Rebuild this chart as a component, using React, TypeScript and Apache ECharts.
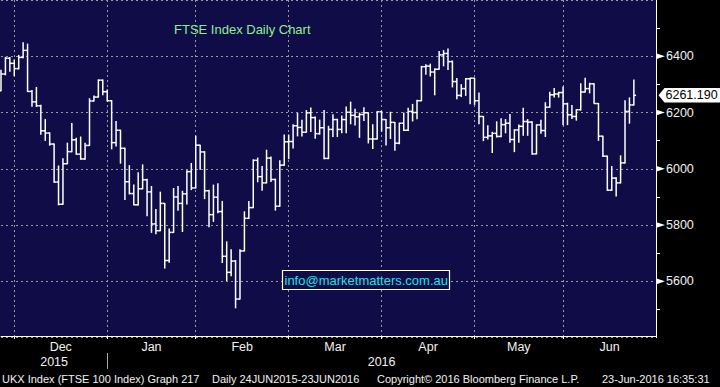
import React, { useEffect, useRef } from "react";
import * as echarts from "echarts";

// Trading days shown on the axis (last five June days are empty slots)
const tradingDays: [string, number[]][] = [
  ["2015-11", [25, 26, 27, 30]],
  ["2015-12", [1, 2, 3, 4, 7, 8, 9, 10, 11, 14, 15, 16, 17, 18, 21, 22, 23, 24, 29, 30, 31]],
  ["2016-01", [4, 5, 6, 7, 8, 11, 12, 13, 14, 15, 18, 19, 20, 21, 22, 25, 26, 27, 28, 29]],
  ["2016-02", [1, 2, 3, 4, 5, 8, 9, 10, 11, 12, 15, 16, 17, 18, 19, 22, 23, 24, 25, 26, 29]],
  ["2016-03", [1, 2, 3, 4, 7, 8, 9, 10, 11, 14, 15, 16, 17, 18, 21, 22, 23, 24, 29, 30, 31]],
  ["2016-04", [1, 4, 5, 6, 7, 8, 11, 12, 13, 14, 15, 18, 19, 20, 21, 22, 25, 26, 27, 28, 29]],
  ["2016-05", [3, 4, 5, 6, 9, 10, 11, 12, 13, 16, 17, 18, 19, 20, 23, 24, 25, 26, 27, 31]],
  ["2016-06", [1, 2, 3, 6, 7, 8, 9, 10, 13, 14, 15, 16, 17, 20, 21, 22, 23, 24, 27, 28, 29]],
];

const openP = [
  6277, 6337, 6393, 6375, 6356, 6396, 6421, 6275, 6238, 6224, 6135, 6127, 6088, 5953, 5874, 6018, 6061, 6103, 6052, 6035, 6083, 6241, 6255, 6315, 6274,
  6242, 6093, 6137, 6073, 5954, 5912, 5872, 5929, 5961, 5918, 5804, 5780, 5877, 5674, 5774, 5900, 5877, 5911, 5990, 5932,
  6084, 6060, 5922, 5837, 5899, 5848, 5689, 5632, 5672, 5537, 5708, 5824, 5862, 6030, 5972, 5950, 6038, 5962, 5867, 6013, 6096,
  6097, 6153, 6147, 6130, 6199, 6182, 6125, 6146, 6037, 6140, 6175, 6140, 6175, 6201, 6190, 6185, 6193, 6199, 6106, 6106, 6203,
  6175, 6146, 6165, 6091, 6162, 6137, 6204, 6200, 6242, 6363, 6365, 6344, 6354, 6405, 6410, 6381, 6310, 6261, 6285, 6320, 6322,
  6242, 6186, 6112, 6117, 6126, 6115, 6157, 6162, 6104, 6138, 6151, 6168, 6166, 6053, 6156, 6136, 6219, 6263, 6266, 6271,
  6231, 6192, 6186, 6210, 6273, 6285, 6302, 6232, 6116, 6045, 5924, 5967, 5950, 6021, 6204, 6227,
];
const highP = [
  6350, 6396, 6396, 6387, 6403, 6448, 6443, 6278, 6289, 6226, 6175, 6128, 6088, 6010, 6036, 6091, 6161, 6109, 6113, 6091, 6249, 6259, 6316, 6316, 6280,
  6242, 6168, 6137, 6073, 6011, 5942, 5986, 6014, 5963, 5937, 5855, 5917, 5877, 5786, 5930, 5937, 5920, 5993, 6019, 6116,
  6084, 6061, 5924, 5942, 5947, 5884, 5740, 5712, 5674, 5712, 5847, 5884, 6032, 6038, 6008, 6066, 6042, 5963, 6029, 6120, 6120,
  6157, 6197, 6173, 6207, 6216, 6184, 6173, 6207, 6151, 6192, 6176, 6188, 6220, 6237, 6212, 6198, 6217, 6199, 6157, 6204, 6204,
  6175, 6201, 6165, 6162, 6198, 6215, 6229, 6244, 6364, 6370, 6372, 6355, 6417, 6420, 6426, 6383, 6321, 6299, 6321, 6322, 6322,
  6269, 6186, 6153, 6130, 6167, 6178, 6175, 6193, 6139, 6156, 6215, 6175, 6167, 6156, 6173, 6235, 6272, 6285, 6272, 6291,
  6233, 6225, 6210, 6302, 6322, 6304, 6302, 6232, 6116, 6045, 6008, 5968, 6046, 6242, 6252, 6316,
];
const lowP = [
  6277, 6334, 6347, 6331, 6355, 6395, 6275, 6222, 6222, 6123, 6101, 6084, 5952, 5872, 5874, 6018, 6061, 6052, 6034, 6034, 6083, 6241, 6255, 6263, 6241,
  6071, 6081, 6020, 5891, 5911, 5872, 5871, 5929, 5833, 5774, 5769, 5780, 5647, 5668, 5774, 5853, 5777, 5875, 5926, 5932,
  5998, 5894, 5794, 5813, 5844, 5667, 5603, 5620, 5506, 5537, 5708, 5823, 5862, 5954, 5924, 5950, 5955, 5853, 5867, 6013, 6036,
  6074, 6117, 6117, 6130, 6133, 6109, 6123, 6036, 6036, 6115, 6115, 6128, 6128, 6160, 6156, 6112, 6172, 6092, 6072, 6106, 6134,
  6085, 6108, 6066, 6089, 6136, 6136, 6170, 6178, 6242, 6336, 6330, 6263, 6354, 6366, 6353, 6291, 6249, 6257, 6261, 6231, 6229,
  6160, 6100, 6106, 6058, 6113, 6114, 6128, 6094, 6061, 6094, 6119, 6119, 6052, 6053, 6126, 6115, 6219, 6255, 6255, 6157,
  6157, 6179, 6173, 6209, 6273, 6270, 6233, 6101, 6044, 5923, 5923, 5903, 5950, 6021, 6162, 6227,
];
const closeP = [
  6337, 6393, 6375, 6356, 6396, 6421, 6275, 6238, 6224, 6135, 6127, 6088, 5953, 5874, 6018, 6061, 6103, 6052, 6035, 6083, 6241, 6255, 6315, 6274, 6242,
  6093, 6137, 6073, 5954, 5912, 5872, 5929, 5961, 5918, 5804, 5780, 5877, 5674, 5774, 5900, 5877, 5911, 5990, 5932, 6084,
  6060, 5922, 5837, 5899, 5848, 5689, 5632, 5672, 5537, 5708, 5824, 5862, 6030, 5972, 5950, 6038, 5962, 5867, 6013, 6096, 6097,
  6153, 6147, 6130, 6199, 6182, 6125, 6146, 6037, 6140, 6175, 6140, 6175, 6201, 6190, 6185, 6193, 6199, 6106, 6106, 6203, 6175,
  6146, 6165, 6091, 6162, 6137, 6204, 6200, 6242, 6363, 6365, 6344, 6354, 6405, 6410, 6381, 6310, 6261, 6285, 6320, 6322, 6242,
  6186, 6112, 6117, 6126, 6115, 6157, 6162, 6104, 6138, 6151, 6168, 6166, 6053, 6156, 6136, 6219, 6263, 6266, 6271, 6231,
  6192, 6186, 6210, 6273, 6285, 6302, 6232, 6116, 6045, 5924, 5967, 5950, 6021, 6204, 6227, 6261.19,
];

const lastPrice = 6261.19;
const yTicks = [5600, 5800, 6000, 6200, 6400];
const monthNames = ["Jan", "Feb", "Mar", "Apr", "May", "Jun", "Jul", "Aug", "Sep", "Oct", "Nov", "Dec"];
const titleText = "FTSE Index Daily Chart";
const emailText = "info@marketmatters.com.au";
const footerTexts: [string, number][] = [
  ["UKX Index (FTSE 100 Index) Graph 217", 2],
  ["Daily 24JUN2015-23JUN2016", 212],
  ["Copyright\u00A9 2016 Bloomberg Finance L.P.", 377],
  ["23-Jun-2016 16:35:31", 602],
];

const NAVY = "#100c48";
const FONT = "'Liberation Sans', Arial, sans-serif";
const LABEL_COLOR = "#f2f2f2";
const GRID_COLOR = "#9a9a9a";

export default function App() {
  const ref = useRef<HTMLDivElement>(null);

  useEffect(() => {
    if (!ref.current) return;
    const chart = echarts.init(ref.current, null, { renderer: "svg" });

    const categories: string[] = [];
    tradingDays.forEach(([ym, days]) =>
      days.forEach((d) => categories.push(`${ym}-${String(d).padStart(2, "0")}`))
    );
    const n = categories.length;

    // month boundaries: last trading day of each month
    const gridIdx: number[] = [];
    const yearIdx: number[] = [];
    for (let i = 0; i < n - 1; i++) {
      if (categories[i].slice(0, 7) !== categories[i + 1].slice(0, 7)) gridIdx.push(i);
      if (categories[i].slice(0, 4) !== categories[i + 1].slice(0, 4)) yearIdx.push(i);
    }
    const monthLabel = new Map<number, { text: string; half: boolean }>();
    const bounds = [...gridIdx, n - 1];
    for (let k = 0; k < bounds.length - 1; k++) {
      const mid = (bounds[k] + bounds[k + 1]) / 2;
      const m = parseInt(categories[bounds[k] + 1].slice(5, 7), 10);
      monthLabel.set(Math.floor(mid), { text: monthNames[m - 1], half: mid % 1 !== 0 });
    }
    const yearLabel = new Map<number, string>();
    const ybounds = [0, ...yearIdx, n - 1];
    for (let k = 0; k < ybounds.length - 1; k++) {
      const mid = Math.floor((ybounds[k] + ybounds[k + 1]) / 2);
      yearLabel.set(mid, categories[ybounds[k] + (k === 0 ? 0 : 1)].slice(0, 4));
    }

    const ohlc = closeP.map((c, i) => [i, openP[i], highP[i], lowP[i], c]);
    const lineStyle = { stroke: "#ffffff", lineWidth: 1.5 };

    chart.setOption({
      animation: false,
      backgroundColor: "#000000",
      grid: { left: 1, right: 64, top: -18.3, bottom: 49.4, containLabel: false },
      xAxis: [
        {
          type: "category",
          data: categories,
          boundaryGap: false,
          position: "bottom",
          offset: -1.6,
          axisLine: { onZero: false, lineStyle: { color: "#ffffff", width: 1 } },
          axisTick: {
            show: true,
            interval: (i: number) => gridIdx.includes(i),
            length: 3,
            lineStyle: { color: "#ffffff" },
          },
          splitLine: {
            show: true,
            interval: (i: number) => gridIdx.includes(i),
            lineStyle: { color: GRID_COLOR, type: [2, 3], width: 1 },
          },
          axisLabel: {
            interval: (i: number) => monthLabel.has(i),
            margin: 4,
            formatter: (_v: string, i: number) => {
              const l = monthLabel.get(i);
              if (!l) return "";
              return l.half ? `{h|${l.text}}` : `{n|${l.text}}`;
            },
            rich: {
              h: { padding: [0, 0, 0, 4.4], fontSize: 12.5, fontFamily: FONT, color: LABEL_COLOR },
              n: { fontSize: 12.5, fontFamily: FONT, color: LABEL_COLOR },
            },
          },
        },
        {
          type: "category",
          data: categories,
          boundaryGap: false,
          position: "bottom",
          offset: 15.4,
          axisLine: { show: false, onZero: false },
          splitLine: { show: false },
          axisTick: {
            show: true,
            interval: (i: number) => yearIdx.includes(i),
            length: 16,
            lineStyle: { color: "#a8a8a8" },
          },
          axisLabel: {
            interval: (i: number) => yearLabel.has(i),
            margin: 2,
            formatter: (_v: string, i: number) => yearLabel.get(i) || "",
            fontSize: 12.5,
            fontFamily: FONT,
            color: LABEL_COLOR,
          },
        },
      ],
      yAxis: {
        type: "value",
        position: "right",
        min: 5400,
        max: 6600,
        interval: 200,
        axisLine: { show: true, lineStyle: { color: "#ffffff", width: 1 } },
        axisTick: { show: false },
        minorTick: { show: true, splitNumber: 2, length: 4, lineStyle: { color: "#ffffff", width: 1 } },
        splitLine: { show: true, lineStyle: { color: GRID_COLOR, type: [2, 3], width: 1 } },
        axisLabel: {
          margin: 10,
          fontSize: 12.5,
          fontFamily: FONT,
          color: LABEL_COLOR,
          formatter: (v: number) => (yTicks.includes(v) ? String(v) : ""),
        },
      },
      series: [
        {
          type: "custom",
          xAxisIndex: 0,
          yAxisIndex: 0,
          data: ohlc,
          encode: { x: 0, y: [1, 2, 3, 4] },
          renderItem: (_params: any, api: any) => {
            const i = api.value(0);
            const o = api.coord([i, api.value(1)]);
            const h = api.coord([i, api.value(2)]);
            const l = api.coord([i, api.value(3)]);
            const c = api.coord([i, api.value(4)]);
            const half = api.size([1, 0])[0] / 2;
            return {
              type: "group",
              children: [
                { type: "line", shape: { x1: h[0], y1: h[1] - 0.5, x2: l[0], y2: l[1] + 0.5 }, style: lineStyle },
                { type: "line", shape: { x1: o[0] - half, y1: o[1], x2: o[0], y2: o[1] }, style: lineStyle },
                { type: "line", shape: { x1: c[0], y1: c[1], x2: c[0] + half, y2: c[1] }, style: lineStyle },
              ],
            };
          },
        },
      ],
    });

    const xRight = chart.convertToPixel({ xAxisIndex: 0 }, categories[n - 1]) as number;
    const xLeft = chart.convertToPixel({ xAxisIndex: 0 }, categories[0]) as number;
    const yBottom = chart.convertToPixel({ yAxisIndex: 0 }, 5400) as number - 1.6;
    const yLast = chart.convertToPixel({ yAxisIndex: 0 }, lastPrice) as number;

    const graphics: any[] = [
      {
        type: "rect",
        id: "bg",
        z: -100,
        shape: { x: 0, y: 0, width: xRight, height: yBottom },
        style: { fill: NAVY },
        silent: true,
      },
    ];
    yTicks.forEach((v, k) => {
      const y = chart.convertToPixel({ yAxisIndex: 0 }, v) as number;
      graphics.push({
        type: "polygon",
        id: "tri" + k,
        z: 50,
        shape: { points: [[xRight + 0.5, y - 2.8], [xRight + 9, y], [xRight + 0.5, y + 2.8]] },
        style: { fill: "#ffffff" },
      });
    });
    graphics.push(
      {
        type: "polygon",
        id: "tag",
        z: 50,
        shape: {
          points: [
            [xRight + 2.5, yLast],
            [xRight + 8.5, yLast - 7.3],
            [720, yLast - 7.3],
            [720, yLast + 7.3],
            [xRight + 8.5, yLast + 7.3],
          ],
        },
        style: { fill: "#ffffff" },
      },
      {
        type: "text",
        id: "tagText",
        z: 51,
        x: xRight + 9.5,
        y: yLast,
        style: {
          text: lastPrice.toFixed(3),
          fill: "#000000",
          font: `12.5px ${FONT}`,
          verticalAlign: "middle",
          align: "left",
        },
      },
      {
        type: "text",
        id: "title",
        z: 50,
        x: 174 + xLeft - 1,
        y: 29.3,
        style: { text: titleText, fill: "#8df08d", font: `13px ${FONT}`, verticalAlign: "middle", align: "left" },
      },
      {
        type: "rect",
        id: "emailBox",
        z: 50,
        shape: { x: 282.5, y: 270.5, width: 167, height: 19 },
        style: { fill: NAVY, stroke: "#ffffff", lineWidth: 1.2 },
      },
      {
        type: "text",
        id: "emailText",
        z: 51,
        x: 284.5,
        y: 280.5,
        style: { text: emailText, fill: "#1ee4e4", font: `13px ${FONT}`, verticalAlign: "middle", align: "left" },
      }
    );
    footerTexts.forEach(([t, x], k) => {
      graphics.push({
        type: "text",
        id: "foot" + k,
        z: 50,
        x,
        y: 379,
        style: { text: t, fill: LABEL_COLOR, font: `11px ${FONT}`, verticalAlign: "middle", align: "left" },
      });
    });

    chart.setOption({ graphic: graphics });

    return () => chart.dispose();
  }, []);

  return (
    <div
      ref={ref}
      style={{ position: "absolute", left: 0, top: 0, width: 720, height: 387 }}
    />
  );
}
